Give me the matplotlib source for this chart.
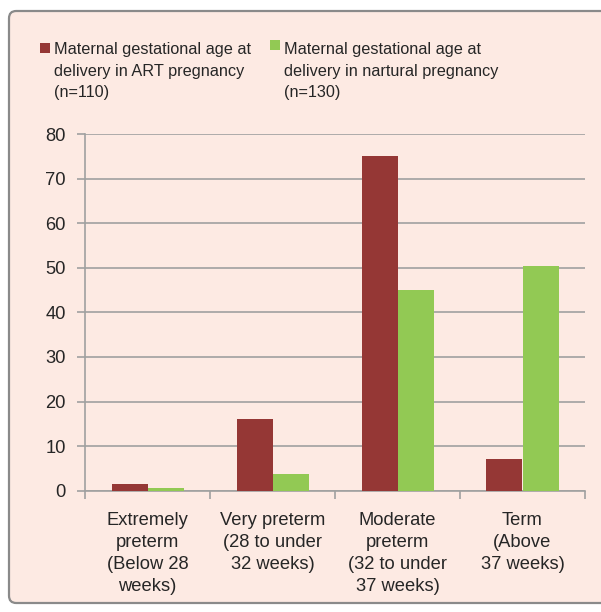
import numpy as np
import matplotlib
matplotlib.use("Agg")
import matplotlib.pyplot as plt
from matplotlib.patches import FancyBboxPatch, Rectangle

plt.rcParams['font.family'] = ['Liberation Sans', 'DejaVu Sans']

categories = ["Extremely\npreterm\n(Below 28\nweeks)",
              "Very preterm\n(28 to under\n32 weeks)",
              "Moderate\npreterm\n(32 to under\n37 weeks)",
              "Term\n(Above\n37 weeks)"]
art = [1.5, 16, 75, 7.1]
natural = [0.6, 3.7, 45, 50.4]
labels = ["Maternal gestational age at\ndelivery in ART pregnancy\n(n=110)",
          "Maternal gestational age at\ndelivery in nartural pregnancy\n(n=130)"]
yticks = np.arange(0, 81, 10)

bg = "#fdeae3"
red = "#953735"
green = "#92c954"
grey = "#a0a0a0"
txt = "#262626"
fs_leg = 11.7
fs_ax = 13.2

W, H = 601, 612
fig = plt.figure(figsize=(W / 100, H / 100), dpi=100)
fig.patch.set_facecolor("white")

# rounded frame
frame = FancyBboxPatch((9 / W, 9 / H), (W - 9) / W + 0.02, (H - 20) / H,
                       boxstyle="round,pad=0,rounding_size=0.012",
                       transform=fig.transFigure, facecolor=bg,
                       edgecolor="#8a8a8a", linewidth=1.6, zorder=-5)
fig.patches.append(frame)

ax = fig.add_axes([85 / W, (H - 490.7) / H, 500 / W, 356.7 / H])
ax.set_facecolor("none")

x = np.arange(len(categories))
w = 0.288
ax.bar(x - w / 2, art, w, color=red, zorder=3)
ax.bar(x + w / 2, natural, w, color=green, zorder=3)

ax.set_xlim(-0.5, 3.5)
ax.set_ylim(0, 80)
ax.set_yticks(yticks)
ax.set_yticklabels([str(v) for v in yticks], fontsize=fs_ax, color=txt)
ax.yaxis.grid(True, color=grey, linewidth=1.2, zorder=0)
ax.set_axisbelow(True)

ax.set_xticks(np.arange(-0.5, 3.6, 1))
ax.set_xticklabels([])
ax.set_xticks(x, minor=True)
ax.set_xticklabels(categories, minor=True, fontsize=fs_ax, color=txt,
                   linespacing=1.40)
ax.tick_params(axis='x', which='minor', length=0, pad=15)
ax.tick_params(axis='x', which='major', length=6, color=grey, width=1.2)
ax.tick_params(axis='y', length=6, color=grey, width=1.2, pad=8)

for s in ['top', 'right']:
    ax.spines[s].set_visible(False)
for s in ['left', 'bottom']:
    ax.spines[s].set_color(grey)
    ax.spines[s].set_linewidth(1.2)

# legend
for i, (lab, col) in enumerate(zip(labels, [red, green])):
    lx = [40, 270][i]
    ly = [43, 40][i]
    fig.patches.append(Rectangle((lx / W, 1 - (ly + 10) / H), 10 / W, 10 / H,
                                 transform=fig.transFigure, facecolor=col,
                                 edgecolor="none"))
    fig.text((lx + 14) / W, 1 - 42 / H, lab, fontsize=fs_leg, color=txt,
             va='top', ha='left', linespacing=1.55)

fig.savefig("out.png", dpi=100, facecolor=fig.get_facecolor())
